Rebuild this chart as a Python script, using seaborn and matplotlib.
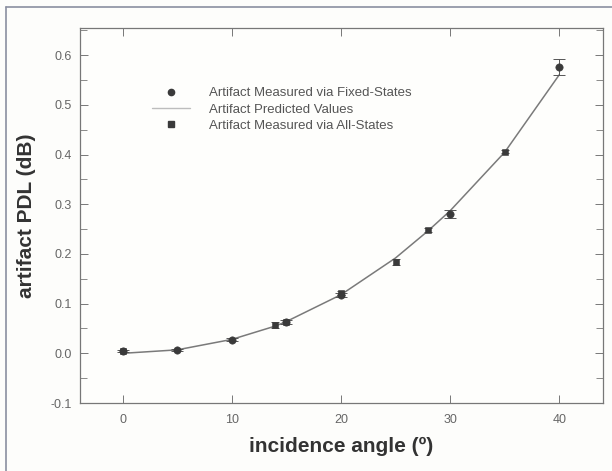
import matplotlib
matplotlib.use("Agg")
import matplotlib.pyplot as plt
import matplotlib.lines as mlines
import seaborn as sns
import pandas as pd
from matplotlib.ticker import MultipleLocator

# data
fixed_x = [0, 5, 10, 15, 20, 30, 40]
fixed_y = [0.004, 0.006, 0.027, 0.063, 0.117, 0.281, 0.576]
fixed_err = [0.002, 0.002, 0.003, 0.004, 0.004, 0.008, 0.016]

all_x = [0, 14, 15, 20, 25, 28, 35]
all_y = [0.004, 0.057, 0.063, 0.122, 0.184, 0.248, 0.406]
all_err = [0.002, 0.006, 0.004, 0.004, 0.006, 0.004, 0.003]

pred_x = [0, 5, 10, 14, 15, 20, 25, 28, 30, 35, 40]
pred_y = [0.0, 0.007, 0.028, 0.055, 0.064, 0.118, 0.192, 0.247, 0.287, 0.405, 0.561]

xticks = [0, 10, 20, 30, 40]
yticks = [-0.1, 0.0, 0.1, 0.2, 0.3, 0.4, 0.5, 0.6]
ytick_labels = ["-0.1", "0.0", "0.1", "0.2", "0.3", "0.4", "0.5", "0.6"]

sns.set_theme(style="ticks")
plt.rcParams["font.family"] = ["Liberation Sans", "DejaVu Sans"]

fig = plt.figure(figsize=(6.12, 4.71), dpi=100)
fig.patch.set_facecolor("#fdfdfb")
ax = fig.add_axes([80 / 612, 1 - 403 / 471, 523 / 612, 375 / 471])
ax.set_facecolor("#fefefc")

pred_df = pd.DataFrame({"x": pred_x, "y": pred_y})
fixed_df = pd.DataFrame({"x": fixed_x, "y": fixed_y})
all_df = pd.DataFrame({"x": all_x, "y": all_y})

sns.lineplot(data=pred_df, x="x", y="y", ax=ax, color="#7a7a7a", lw=1.1,
             zorder=2, legend=False)
ax.errorbar(fixed_x, fixed_y, yerr=fixed_err, fmt="none", ecolor="#555555",
            elinewidth=0.7, capsize=4, capthick=0.7, zorder=3)
ax.errorbar(all_x, all_y, yerr=all_err, fmt="none", ecolor="#555555",
            elinewidth=0.7, capsize=3, capthick=0.7, zorder=3)
sns.scatterplot(data=fixed_df, x="x", y="y", ax=ax, marker="o", s=28,
                color="#3a3a3a", edgecolor="#3a3a3a", zorder=4, legend=False)
sns.scatterplot(data=all_df, x="x", y="y", ax=ax, marker="s", s=24,
                color="#3a3a3a", edgecolor="#3a3a3a", zorder=4, legend=False)

ax.set_xlim(-3.9, 44.0)
ax.set_ylim(-0.1, 0.655)
ax.set_xticks(xticks)
ax.set_yticks(yticks)
ax.set_yticklabels(ytick_labels)
ax.yaxis.set_minor_locator(MultipleLocator(0.05))

ax.tick_params(axis="both", which="both", direction="in", top=True, right=True,
               colors="#777777", labelcolor="#666666", labelsize=9)
ax.tick_params(axis="both", which="major", length=6, width=0.7)
ax.tick_params(axis="y", which="minor", length=5, width=0.6)
ax.tick_params(axis="x", pad=8)
ax.tick_params(axis="y", pad=6)
for s in ax.spines.values():
    s.set_color("#777777")
    s.set_linewidth(0.9)

label_font = ["Liberation Sans Narrow", "Liberation Sans", "DejaVu Sans"]
ax.set_xlabel("incidence angle (º)", fontsize=15, fontweight="bold",
              color="#333333", family=label_font, labelpad=8)
ax.set_ylabel("artifact PDL (dB)", fontsize=15, fontweight="bold",
              color="#333333", family=label_font, labelpad=10)

h1 = mlines.Line2D([], [], color="#3a3a3a", marker="o", ls="none", markersize=4.5)
h2 = mlines.Line2D([], [], color="#bdbdbd", lw=1.0)
h3 = mlines.Line2D([], [], color="#3a3a3a", marker="s", ls="none", markersize=4.5)
leg = ax.legend([h1, h2, h3],
                ["Artifact Measured via Fixed-States",
                 "Artifact Predicted Values",
                 "Artifact Measured via All-States"],
                loc="upper left", bbox_to_anchor=(0.115, 0.874),
                frameon=False, fontsize=9.5, handlelength=2.9,
                handletextpad=1.45, labelspacing=0.31)
for t in leg.get_texts():
    t.set_color("#555555")

# outer frame of the figure
fig.add_artist(mlines.Line2D([6 / 612, 6 / 612], [0, 1 - 7 / 471],
                             transform=fig.transFigure, color="#8a8fa0", lw=1.2))
fig.add_artist(mlines.Line2D([6 / 612, 1], [1 - 7 / 471, 1 - 7 / 471],
                             transform=fig.transFigure, color="#8a8fa0", lw=1.2))

fig.savefig("out.png", dpi=100, facecolor=fig.get_facecolor())
